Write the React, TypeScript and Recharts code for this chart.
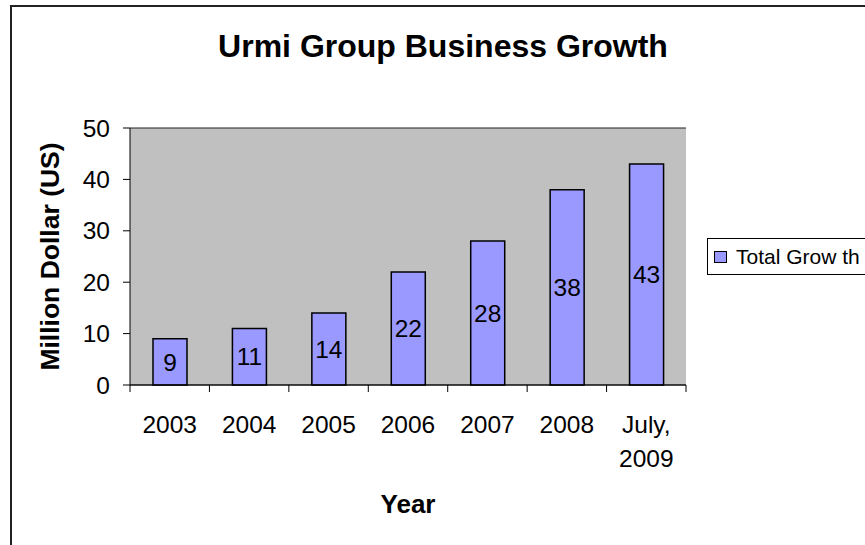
import React from 'react'
import {
  BarChart,
  Bar,
  XAxis,
  YAxis,
  CartesianGrid,
  Legend,
  LabelList,
  Label
} from 'recharts'

const years = ['2003', '2004', '2005', '2006', '2007', '2008', 'July, 2009']
const totalGrowth = [9, 11, 14, 22, 28, 38, 43]
const yTicks = [0, 10, 20, 30, 40, 50]

const data = years.map((year, i) => ({ year, growth: totalGrowth[i] }))

const FONT = '"Liberation Sans", Arial, sans-serif'
const BAR_FILL = '#9999FF'
const PLOT_LEFT = 130
const PLOT_RIGHT = 686
const BAND = (PLOT_RIGHT - PLOT_LEFT) / years.length

// Excel-style category tick: label centred, tick mark at category boundary
const YearTick = (props: any) => {
  const { x, y, payload, index } = props
  const value: string = payload.value
  const lines = value.includes(', ') ? [value.split(', ')[0] + ',', value.split(', ')[1]] : [value]
  return (
    <g>
      <line x1={x - BAND / 2} x2={x - BAND / 2} y1={y} y2={y + 7} stroke="#000" />
      {index === years.length - 1 && (
        <line x1={x + BAND / 2} x2={x + BAND / 2} y1={y} y2={y + 7} stroke="#000" />
      )}
      {lines.map((line, i) => (
        <text key={i} x={x} y={y + 48 + i * 34} textAnchor="middle" fontSize={24.5} fill="#000" fontFamily={FONT}>
          {line}
        </text>
      ))}
    </g>
  )
}

const LegendBox = (props: any) => {
  const item = props.payload?.[0]
  return (
    <div
      style={{
        border: '1px solid #000',
        height: 35,
        display: 'flex',
        alignItems: 'center',
        paddingLeft: 6,
        background: '#fff',
        fontFamily: FONT,
        fontSize: 21,
        whiteSpace: 'nowrap'
      }}
    >
      <span
        style={{
          display: 'inline-block',
          width: 11,
          height: 10,
          background: BAR_FILL,
          border: '1.5px solid #000',
          marginRight: 9
        }}
      />
      {item ? item.value : ''}
    </div>
  )
}

export default function App() {
  return (
    <div style={{ position: 'absolute', left: 0, top: 0, width: 865, height: 545, overflow: 'hidden', background: '#fff' }}>
      <div
        style={{
          position: 'absolute',
          left: 10,
          top: 5,
          width: 900,
          height: 600,
          border: '2px solid #222'
        }}
      />
      <svg style={{ position: 'absolute', left: 0, top: 0 }} width={865} height={80}>
        <text x={443} y={57} textAnchor="middle" fontSize={32} fontWeight="bold" fontFamily={FONT} fill="#000">
          Urmi Group Business Growth
        </text>
      </svg>
      <div style={{ position: 'absolute', left: 0, top: 0 }}>
        <BarChart
          width={865}
          height={545}
          data={data}
          margin={{ top: 128, right: 865 - PLOT_RIGHT, bottom: 0, left: 0 }}
          style={{ fontFamily: FONT }}
        >
          <CartesianGrid vertical={false} stroke="#222" fill="#C0C0C0" fillOpacity={1} />
          <XAxis
            dataKey="year"
            height={160}
            tickSize={0}
            tickMargin={0}
            tickLine={false}
            axisLine={{ stroke: '#000' }}
            tick={<YearTick />}
            interval={0}
          >
            <Label
              content={(p: any) => (
                <text
                  x={p.viewBox.x + p.viewBox.width / 2}
                  y={p.viewBox.y + 128}
                  textAnchor="middle"
                  fontSize={26}
                  fontWeight="bold"
                  fontFamily={FONT}
                  fill="#000"
                >
                  Year
                </text>
              )}
            />
          </XAxis>
          <YAxis
            yAxisId="left"
            width={PLOT_LEFT}
            domain={[0, 50]}
            ticks={yTicks}
            interval={0}
            tickSize={7}
            tickMargin={13}
            tickLine={{ stroke: '#000' }}
            axisLine={{ stroke: '#000' }}
            tick={{ fontSize: 24.5, fill: '#000', fontFamily: FONT }}
          >
            <Label
              content={(p: any) => {
                const cx = 50
                const cy = p.viewBox.y + p.viewBox.height / 2
                return (
                  <text
                    x={cx}
                    y={cy}
                    transform={`rotate(-90 ${cx} ${cy})`}
                    textAnchor="middle"
                    dominantBaseline="central"
                    fontSize={26.5}
                    fontWeight="bold"
                    fontFamily={FONT}
                    fill="#000"
                  >
                    Million Dollar (US)
                  </text>
                )
              }}
            />
          </YAxis>
          <YAxis
            yAxisId="right"
            orientation="right"
            width={0}
            domain={[0, 50]}
            tick={false}
            tickLine={false}
            axisLine={{ stroke: '#808080' }}
          />
          <Legend
            layout="vertical"
            align="center"
            verticalAlign="middle"
            wrapperStyle={{ position: 'absolute', left: 707, top: 238, width: 200 }}
            content={<LegendBox />}
          />
          <Bar
            yAxisId="left"
            dataKey="growth"
            name="Total Grow th"
            fill={BAR_FILL}
            stroke="#000"
            strokeWidth={1.5}
            barSize={34}
            isAnimationActive={false}
          >
            <LabelList dataKey="growth" position="center" fontSize={24.5} fill="#000" fontFamily={FONT} />
          </Bar>
        </BarChart>
      </div>
    </div>
  )
}
